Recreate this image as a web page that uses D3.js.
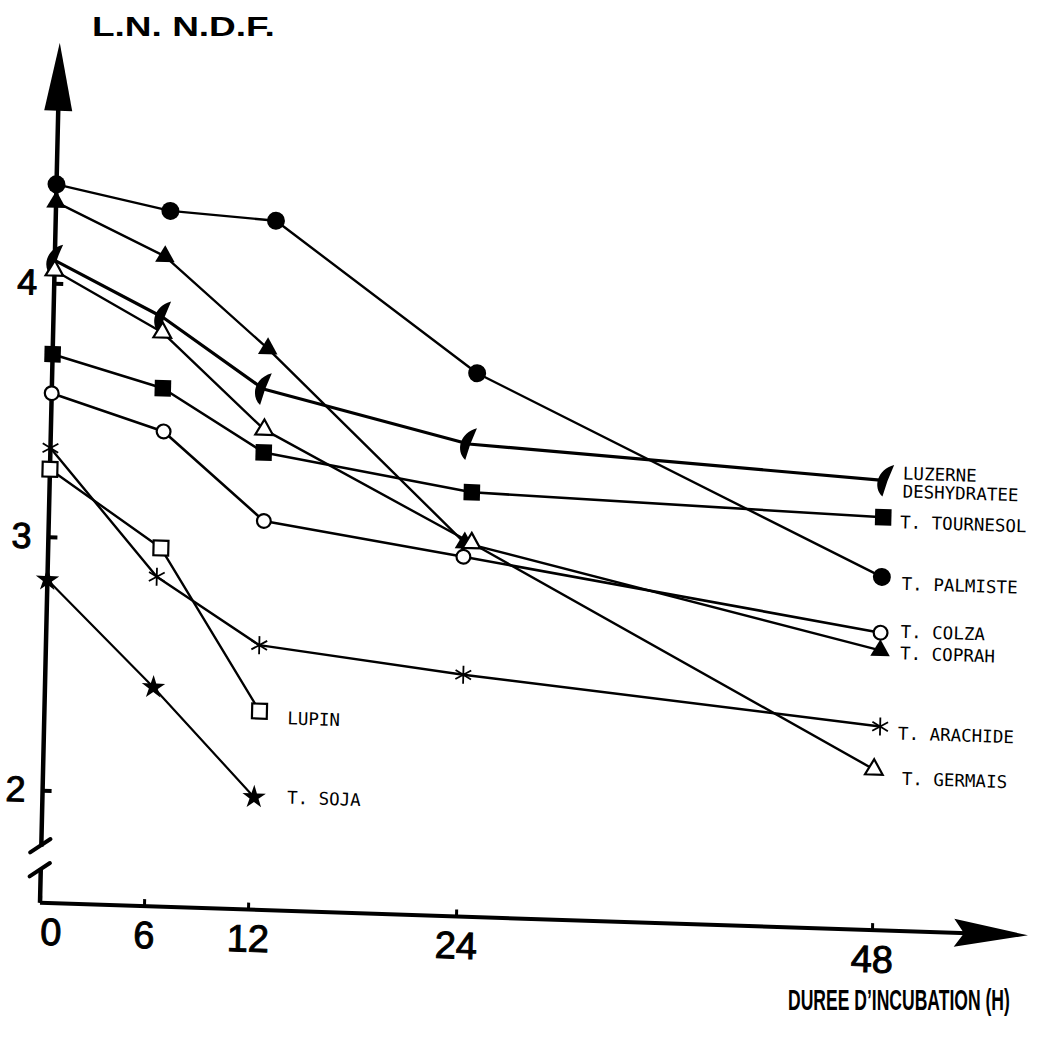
<!DOCTYPE html>
<html>
<head>
<meta charset="utf-8">
<script src="https://cdn.jsdelivr.net/npm/d3@7"></script>
<style>
  body { margin: 0; background: #fff; }
  svg { display: block; }
</style>
</head>
<body>
<svg id="chart" width="1042" height="1037"></svg>
<script>
const xTicks = [0, 6, 12, 24, 48];
const yTicks = [2, 3, 4];

// [durée (h), L.N. N.D.F.]
const luzerne = [[0, 4.09], [6.3, 3.88], [12.2, 3.61], [24.1, 3.42], [48.2, 3.33]];
const tournesol = [[0, 3.72], [6.4, 3.6], [12.3, 3.36], [24.35, 3.23], [48.1, 3.185]];
const palmiste = [[0, 4.39], [6.6, 4.3], [12.7, 4.275], [24.5, 3.7], [48.1, 2.95]];
const colza = [[0, 3.566], [6.5, 3.43], [12.4, 3.09], [23.95, 2.975], [48.1, 2.73]];
const coprah = [[0, 4.32], [6.35, 4.12], [12.4, 3.77], [24.0, 3.03], [48.1, 2.66]];
const arachide = [[0, 3.35], [6.3, 2.856], [12.3, 2.6], [24.1, 2.51], [48.2, 2.36]];
const germais = [[0, 4.05], [6.3, 3.82], [12.3, 3.45], [24.4, 3.03], [47.9, 2.19]];
const lupin = [[0, 3.266], [6.5, 2.97], [12.4, 2.34]];
const soja = [[0, 2.83], [6.25, 2.42], [12.2, 2.0]];

const seriesNames = ["LUZERNE\nDESHYDRATEE", "T. TOURNESOL", "T. PALMISTE", "T. COLZA",
	"T. COPRAH", "T. ARACHIDE", "T. GERMAIS", "LUPIN", "T. SOJA"];
const seriesValues = [luzerne, tournesol, palmiste, colza, coprah, arachide, germais, lupin, soja];

// croissant plein (luzerne)
const crescent = {
	draw(ctx) {
		ctx.moveTo(8, -16);
		ctx.bezierCurveTo(-9, -11, -13, 7, -3, 16);
		ctx.quadraticCurveTo(1, 0, 8, -16);
		ctx.closePath();
	}
};

const styles = [
	{ type: crescent, size: 1, fill: "#000", sw: 0, line: 3.2, label: [17, 1] },
	{ type: d3.symbolSquare, size: 270, fill: "#000", sw: 0, line: 2.6, label: [17, 4] },
	{ type: d3.symbolCircle, size: 254, fill: "#000", sw: 0, line: 2.4, label: [20, 6] },
	{ type: d3.symbolCircle, size: 150, fill: "#fff", sw: 2.2, line: 2.6, label: [20, -2] },
	{ type: d3.symbolTriangle, size: 165, fill: "#000", sw: 0, line: 2.4, label: [20, 2] },
	{ type: d3.symbolAsterisk, size: 230, fill: "none", sw: 1.8, line: 2.4, label: [18, 6] },
	{ type: d3.symbolTriangle, size: 135, fill: "#fff", sw: 2.2, line: 2.4, label: [28, 8] },
	{ type: d3.symbolSquare, size: 220, fill: "#fff", sw: 2.2, line: 2.4, label: [28, 6] },
	{ type: d3.symbolStar, size: 170, fill: "#000", sw: 0, line: 2.2, label: [33, -1] }
];

const svg = d3.select("svg#chart");
svg.append("rect").attr("width", 1042).attr("height", 1037).attr("fill", "#fff");

// le document scanné est légèrement penché
const plot = svg.append("g").attr("transform", "matrix(1,0.033,-0.023,1,40,902.7)");

const xLen = 988;
const yLen = 860;
const x = d3.scaleLinear([0, 48], [0, 832]);
const y = d3.scaleLinear([2, 4], [-112.5, -619.5]);

// axes
plot.append("line")
	.attr("x1", 0).attr("y1", 0).attr("x2", xLen - 60).attr("y2", 0)
	.attr("stroke", "#000").attr("stroke-width", 4);
plot.append("path")
	.attr("d", `M${xLen},0L${xLen - 74},-14L${xLen - 64},0L${xLen - 74},14Z`)
	.attr("fill", "#000");

plot.append("path")
	.attr("d", `M0,0V-34M0,-56V${-(yLen - 60)}`)
	.attr("stroke", "#000").attr("stroke-width", 4.5).attr("fill", "none");
plot.append("path")
	.attr("d", `M0,${-yLen}L-14,${-(yLen - 68)}L14,${-(yLen - 68)}Z`)
	.attr("fill", "#000");
// coupure de l'axe
plot.append("path")
	.attr("d", "M-11,-26L9,-40M-11,-50L9,-64")
	.attr("stroke", "#000").attr("stroke-width", 4).attr("stroke-linecap", "round");

const xAxis = plot.append("g")
	.call(d3.axisBottom(x).tickValues(xTicks).tickSizeInner(-7).tickSizeOuter(0).tickFormat(d3.format("d")))
	.attr("font-family", "'Liberation Sans', Arial, sans-serif")
	.attr("font-size", 38);
xAxis.select(".domain").remove();
xAxis.selectAll(".tick line").attr("stroke-width", 3);
xAxis.selectAll(".tick text")
	.attr("y", 42).attr("dy", 0)
	.attr("dx", (d) => (d === 0 ? 11 : 0))
	.attr("stroke", "#000").attr("stroke-width", 1);

const yAxis = plot.append("g")
	.call(d3.axisLeft(y).tickValues(yTicks).tickSizeInner(-9).tickSizeOuter(0).tickPadding(17).tickFormat(d3.format("d")))
	.attr("font-family", "'Liberation Sans', Arial, sans-serif")
	.attr("font-size", 36);
yAxis.select(".domain").remove();
yAxis.selectAll(".tick line").attr("stroke-width", 4);
yAxis.selectAll(".tick text").attr("stroke", "#000").attr("stroke-width", 1);

// courbes
const line = d3.line().x((d) => x(d[0])).y((d) => y(d[1]));

const series = seriesNames.map((name, i) => ({ name, values: seriesValues[i], style: styles[i] }));

const gSeries = plot.selectAll(".serie")
	.data(series)
	.join("g")
	.attr("class", "serie");

gSeries.append("path")
	.attr("d", (d) => line(d.values))
	.attr("fill", "none")
	.attr("stroke", "#000")
	.attr("stroke-width", (d) => d.style.line)
	.attr("stroke-linejoin", "round");

gSeries.each(function (s) {
	const sym = d3.symbol().type(s.style.type).size(s.style.size);
	d3.select(this).selectAll(".pt")
		.data(s.values)
		.join("path")
		.attr("class", "pt")
		.attr("transform", (d) => `translate(${x(d[0])},${y(d[1])})`)
		.attr("d", sym)
		.attr("fill", s.style.fill)
		.attr("stroke", s.style.sw ? "#000" : "none")
		.attr("stroke-width", s.style.sw);
});

// étiquettes
gSeries.append("text")
	.attr("font-family", "'DejaVu Sans Mono', monospace")
	.attr("font-size", 17.5)
	.attr("fill", "#000")
	.each(function (s) {
		const last = s.values[s.values.length - 1];
		const lx = x(last[0]) + s.style.label[0];
		const ly = y(last[1]) + s.style.label[1];
		const lines = s.name.split("\n");
		d3.select(this).attr("y", ly)
			.selectAll("tspan")
			.data(lines)
			.join("tspan")
			.attr("x", lx)
			.attr("dy", (d, i) => (i === 0 ? 6.3 - (lines.length - 1) * 9 : 18))
			.text((d) => d);
	});

// titres (largeur ajustée par une échelle horizontale)
const titleText = (label, tx, ty, size, width) => {
	const t = svg.append("text")
		.attr("font-family", "'Liberation Sans', Arial, sans-serif")
		.attr("font-weight", "bold")
		.attr("font-size", size)
		.text(label);
	const k = width / t.node().getComputedTextLength();
	t.attr("transform", `translate(${tx},${ty}) scale(${k},1)`);
};
titleText("L.N. N.D.F.", 92, 36, 28, 183);
titleText("DUREE D’INCUBATION (H)", 788, 1010, 30, 222);
</script>
</body>
</html>
